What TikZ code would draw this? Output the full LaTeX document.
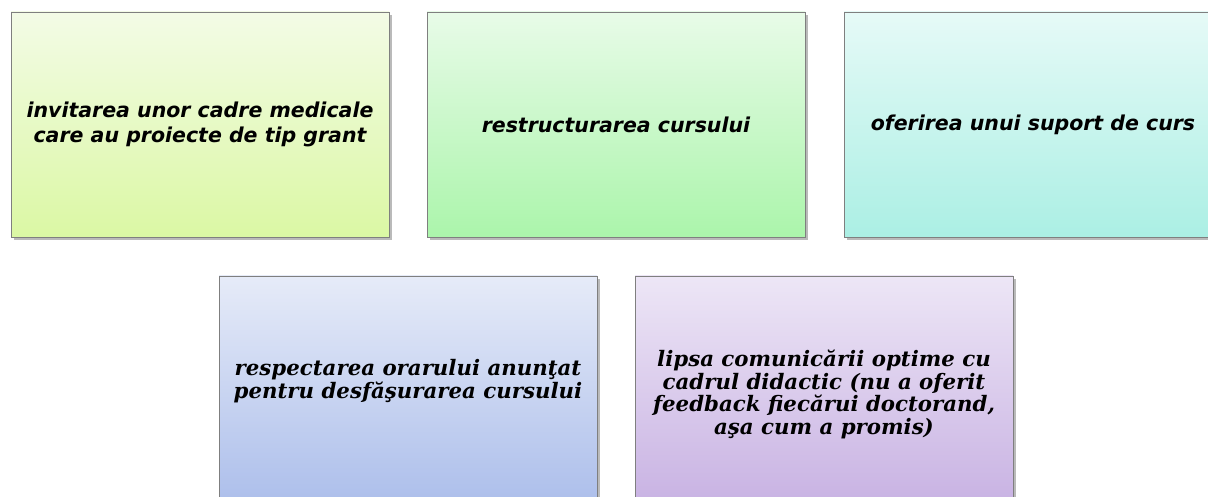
\documentclass[tikz,border=0pt]{standalone}
\usepackage{fontspec}
\setmainfont{DejaVu Serif}
\setsansfont{DejaVu Sans}
\usetikzlibrary{shadows}

\definecolor{gtopA}{HTML}{F3FBE6}\definecolor{gbotA}{HTML}{DBF8A4}
\definecolor{gtopB}{HTML}{E8FBE8}\definecolor{gbotB}{HTML}{ABF5AB}
\definecolor{gtopC}{HTML}{E6FAF7}\definecolor{gbotC}{HTML}{ABEFE4}
\definecolor{gtopD}{HTML}{E6EBF8}\definecolor{gbotD}{HTML}{ADBFEB}
\definecolor{gtopE}{HTML}{EDE6F6}\definecolor{gbotE}{HTML}{C9B3E3}
\definecolor{edgegray}{HTML}{7F7F7F}

\begin{document}
\begin{tikzpicture}[x=1pt, y=-1pt,
  card/.style={draw=edgegray, line width=0.9pt, minimum width=378pt, minimum height=225pt,
    inner sep=0pt, align=center,
    drop shadow={shadow xshift=2.5pt, shadow yshift=-3pt, opacity=0.45, fill=black!60}},
  sanstext/.style={font=\sffamily\bfseries\itshape\fontsize{20.5}{25}\selectfont},
  seriftext/.style={font=\rmfamily\bfseries\itshape\fontsize{21.3}{22.5}\selectfont}]
\useasboundingbox (0,0) rectangle (1208,497);

\node[card, sanstext, top color=gtopA, bottom color=gbotA] (invit) at (200,124.5)
  {invitarea unor cadre medicale\\care au proiecte de tip grant};
\node[card, sanstext, top color=gtopB, bottom color=gbotB] (restr) at (616,124.5)
  {restructurarea cursului};
\node[card, sanstext, top color=gtopC, bottom color=gbotC] (ofer) at (1033,124.5)
  {oferirea unui suport de curs};
\node[card, seriftext, text depth=19pt, top color=gtopD, bottom color=gbotD] (respect) at (408,388.5)
  {respectarea orarului anunţat\\pentru desfăşurarea cursului};
\node[card, seriftext, text height=96pt, top color=gtopE, bottom color=gbotE] (lipsa) at (824,388.5)
  {lipsa comunicării optime cu\\cadrul didactic (nu a oferit\\feedback fiecărui doctorand,\\aşa cum a promis)};
\end{tikzpicture}
\end{document}
